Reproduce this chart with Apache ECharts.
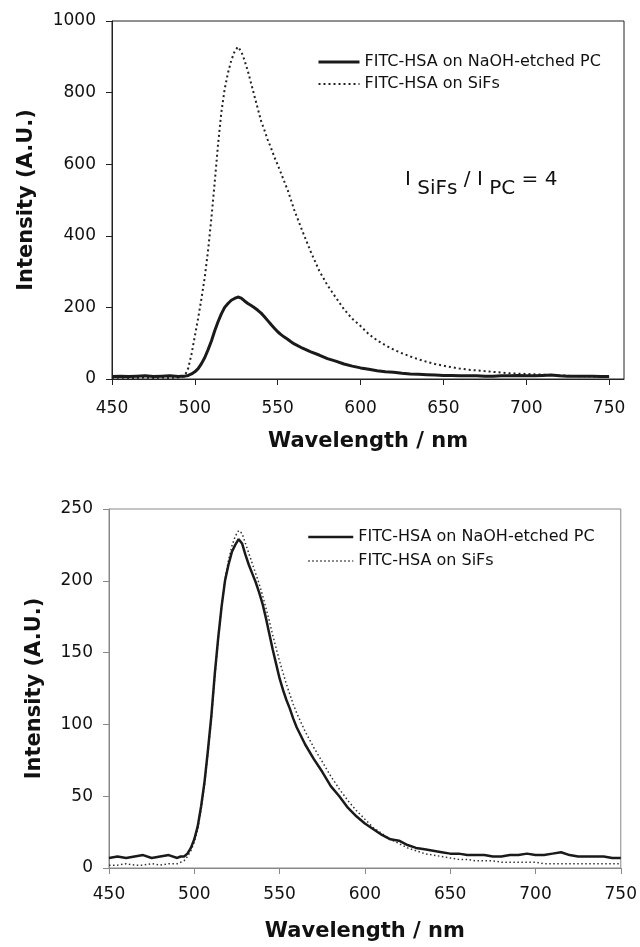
<!DOCTYPE html>
<html>
<head>
<meta charset="utf-8">
<script src="https://cdn.jsdelivr.net/npm/echarts@6/dist/echarts.min.js"></script>
<style>
html,body{margin:0;padding:0;background:#fff;}
#c{width:640px;height:947px;}
</style>
</head>
<body>
<div id="c"></div>
<script>
// wavelengths (nm)
const wavelengths = [450,455,460,465,470,475,480,485,490,
  492,494,496,498,500,502,504,506,508,510,512,514,516,518,520,522,524,526,528,530,532,534,536,538,540,542,544,546,548,550,552,554,556,558,560,
  565,570,575,580,585,590,595,600,605,610,615,620,625,630,635,640,645,650,655,660,665,670,675,680,685,690,695,700,705,710,715,720,725,730,735,740,745,750];

// FITC-HSA on NaOH-etched PC (same spectrum shown in both panels)
const pcValues = [7,8,7,8,9,7,8,9,7,
  8,8,10,14,20,29,43,60,82,106,135,160,182,200,211,220,225,229,226,218,211,205,199,192,184,174,163,152,142,132,124,117,111,104,98,
  86,76,67,57,50,42,36,31,27,23,20,19,16,14,13,12,11,10,10,9,9,9,8,8,9,9,10,9,9,10,11,9,8,8,8,8,7,7];

// FITC-HSA on SiFs (top panel)
const sifsTop = [3,4,3,3,4,3,4,3,4,
  5,10,30,70,120,170,225,285,360,450,550,655,745,810,855,890,915,928,915,890,860,825,790,755,720,695,668,645,620,598,575,551,528,500,472,
  412,355,303,262,228,195,168,148,125,108,94,82,72,63,55,48,42,37,33,29,26,24,22,20,18,16,15,14,13,12,11,10,9,8,8,7,7,6];

// FITC-HSA on SiFs (bottom panel)
const sifsBottom = [2,2,3,2,2,3,2,3,3,
  4,5,8,12,18,27,41,58,80,104,133,159,182,201,214,224,231,235,233,226,219,212,205,198,190,181,172,162,153,144,136,128,121,114,108,
  95,84,74,64,55,47,40,34,28,24,20,17,14,12,10,9,8,7,6,6,5,5,5,4,4,4,4,4,3,3,3,3,3,3,3,3,3,3];

const xTicks = [450,500,550,600,650,700,750];
const seriesNames = ['FITC-HSA on NaOH-etched PC','FITC-HSA on SiFs'];
const xTitle = 'Wavelength / nm';
const yTitle = 'Intensity (A.U.)';

const pair = arr => wavelengths.map((w,i)=>[w, arr[i]]);
const FONT = 'DejaVu Sans';

function xAxisFor(gridIndex, max, color, margin, gap) {
  return {
    type:'value', gridIndex, min:450, max,
    axisLine:{show:true, lineStyle:{color, width:1}},
    axisTick:{show:true, length:6, lineStyle:{color}, customValues: xTicks},
    axisLabel:{fontFamily:FONT, fontSize:17, color:'#111', margin, customValues: xTicks, formatter: v => String(v)},
    splitLine:{show:false},
    name:xTitle, nameLocation:'middle', nameGap:gap,
    nameTextStyle:{fontFamily:FONT, fontSize:21, fontWeight:'bold', color:'#111'}
  };
}
function yAxisFor(gridIndex, max, interval, color, gap) {
  return {
    type:'value', gridIndex, min:0, max, interval,
    axisLine:{show:true, lineStyle:{color, width:1}},
    axisTick:{show:true, length:6, lineStyle:{color}},
    axisLabel:{fontFamily:FONT, fontSize:17, color:'#111', margin:16, formatter: v => String(v)},
    splitLine:{show:false},
    name:yTitle, nameLocation:'middle', nameGap:gap, nameRotate:90,
    nameTextStyle:{fontFamily:FONT, fontSize:21, fontWeight:'bold', color:'#111'}
  };
}

const chart = echarts.init(document.getElementById('c'), null, {renderer:'canvas'});
chart.setOption({
  animation:false,
  backgroundColor:'#fff',
  title:{
    left:400, top:165,
    text:'{n|I }{s|SiFs}{n| / I }{s|PC}{n| = 4}',
    textStyle:{
      fontFamily:FONT, fontSize:20, fontWeight:'normal', color:'#111',
      rich:{
        n:{fontFamily:FONT, fontSize:20, color:'#111', padding:[0,0,9,0]},
        s:{fontFamily:FONT, fontSize:20, color:'#111', padding:[9,0,0,0]}
      }
    }
  },
  grid:[
    {left:112, right:16, top:21, height:358, show:true, borderColor:'#222', borderWidth:1, backgroundColor:'transparent'},
    {left:109, right:18, top:509, height:359, show:true, borderColor:'#888', borderWidth:1, backgroundColor:'transparent'}
  ],
  legend:[
    {
      orient:'vertical', left:312, top:49, itemWidth:41, itemHeight:14, itemGap:6,
      itemStyle:{opacity:0},
      textStyle:{fontFamily:FONT, fontSize:16, color:'#111'},
      data:[
        {name:seriesNames[0], lineStyle:{width:3, color:'#1a1a1a', type:'solid'}},
        {name:seriesNames[1], lineStyle:{width:2, color:'#222', type:[2,3]}}
      ]
    },
    {
      orient:'vertical', left:302, top:524, itemWidth:45, itemHeight:14, itemGap:8,
      itemStyle:{opacity:0},
      textStyle:{fontFamily:FONT, fontSize:16, color:'#111'},
      data:[
        {name:seriesNames[0], lineStyle:{width:2.5, color:'#1a1a1a', type:'solid'}},
        {name:seriesNames[1], lineStyle:{width:1.5, color:'#333', type:[1.5,2.5]}}
      ]
    }
  ],
  xAxis:[ xAxisFor(0, 759, '#222', 21, 52), xAxisFor(1, 750, '#888', 18, 53) ],
  yAxis:[ yAxisFor(0, 1000, 200, '#222', 75), yAxisFor(1, 250, 50, '#888', 64) ],
  series:[
    {name:seriesNames[0], type:'line', xAxisIndex:0, yAxisIndex:0, data:pair(pcValues), showSymbol:false, symbol:'none',
     lineStyle:{color:'#1a1a1a', width:3}, itemStyle:{color:'#1a1a1a'}, z:3},
    {name:seriesNames[1], type:'line', xAxisIndex:0, yAxisIndex:0, data:pair(sifsTop), showSymbol:false, symbol:'none',
     lineStyle:{color:'#222', width:2, type:[2,3]}, itemStyle:{color:'#222'}, z:2},
    {name:seriesNames[0], type:'line', xAxisIndex:1, yAxisIndex:1, data:pair(pcValues), showSymbol:false, symbol:'none',
     lineStyle:{color:'#1a1a1a', width:2.5}, itemStyle:{color:'#1a1a1a'}, z:3},
    {name:seriesNames[1], type:'line', xAxisIndex:1, yAxisIndex:1, data:pair(sifsBottom), showSymbol:false, symbol:'none',
     lineStyle:{color:'#333', width:1.5, type:[1.5,2.5]}, itemStyle:{color:'#333'}, z:2}
  ]
});
</script>
</body>
</html>
